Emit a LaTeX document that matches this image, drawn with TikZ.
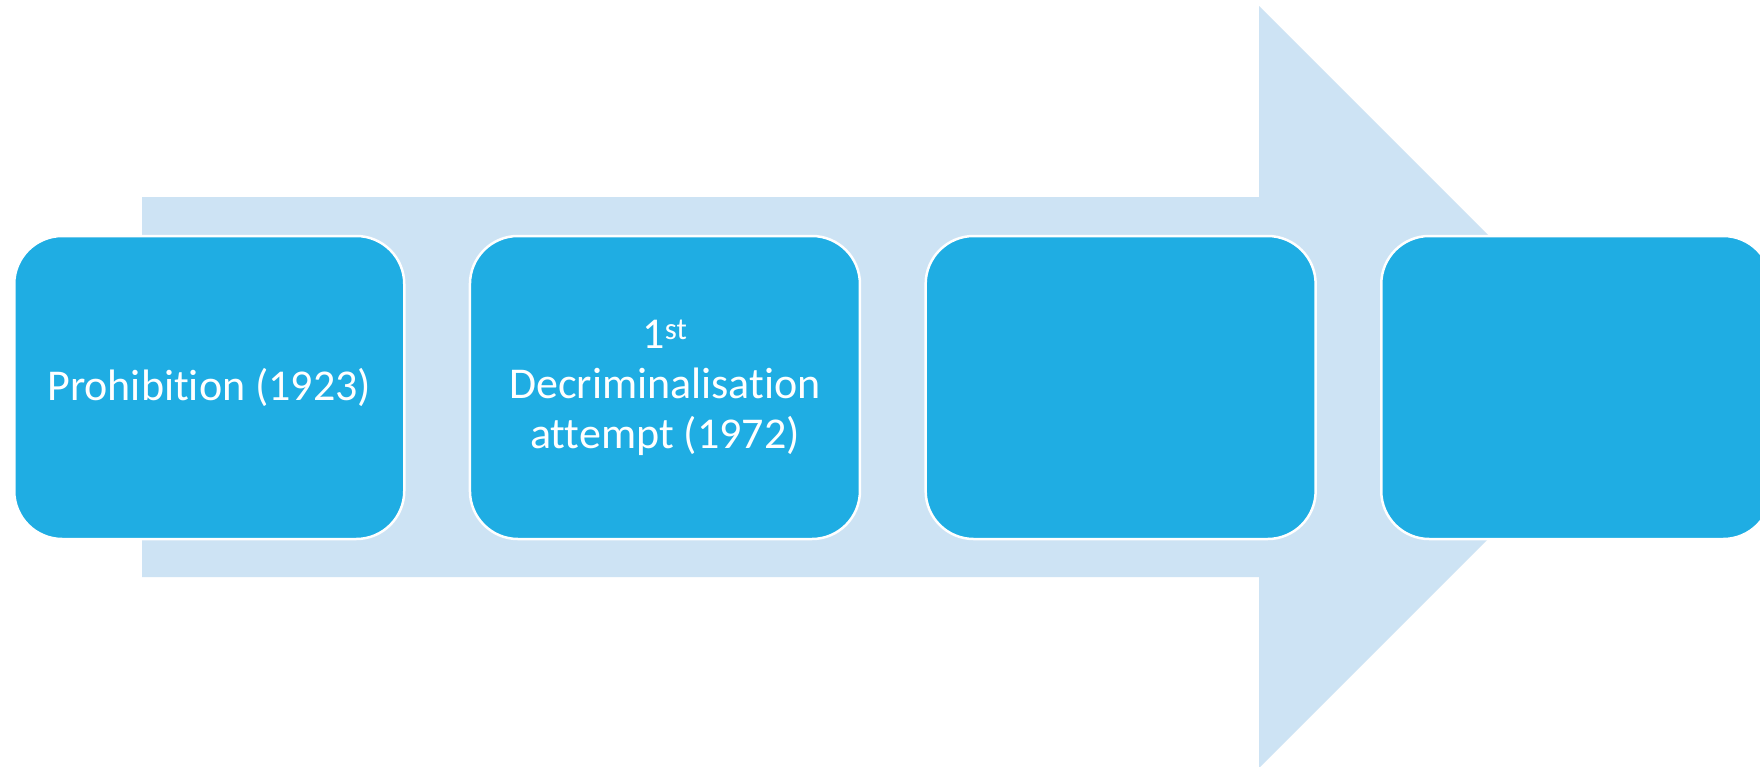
\documentclass[tikz,border=0pt]{standalone}
\usepackage{fontspec}
\setmainfont{Carlito}[Ligatures={NoCommon}]
\definecolor{boxblue}{HTML}{1FADE3}
\definecolor{arrowblue}{HTML}{CDE3F4}
\begin{document}
\begin{tikzpicture}[x=1pt,y=-1pt,
  stepbox/.style={draw=white, line width=2.5pt, fill=boxblue, rounded corners=48pt,
    minimum width=390pt, minimum height=303pt, inner sep=0pt, anchor=west,
    text=white, align=center, font=\fontsize{44}{50}\selectfont}]
\useasboundingbox (0,0) rectangle (1760,766);
\clip (0,0) rectangle (1760,766);
\fill[white] (0,0) rectangle (1760,766);
\fill[arrowblue] (142,197) -- (1259,197) -- (1259,6) -- (1640,387) -- (1259,768) -- (1259,577) -- (142,577) -- cycle;
\node[stepbox] (b1) at (13,387.5) {Prohibition (1923)};
\node[stepbox] (b2) at (468.7,387.5) {1\textsuperscript{st}\\Decriminalisation\\attempt (1972)};
\node[stepbox] (b3) at (924.4,387.5) {};
\node[stepbox] (b4) at (1380,387.5) {};
\end{tikzpicture}
\end{document}
